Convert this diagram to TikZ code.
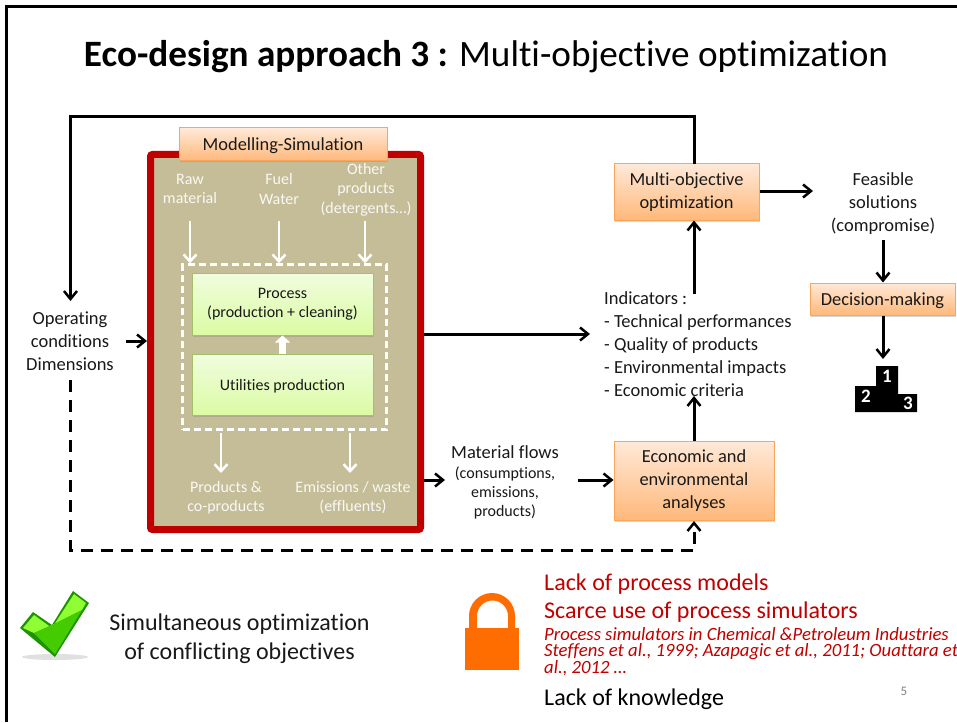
\documentclass[tikz,border=0pt]{standalone}
\usepackage{fontspec}
\setmainfont[Ligatures=NoCommon]{Carlito}
\usepackage{tikz}
\usetikzlibrary{arrows.meta,shadows,positioning}
\definecolor{khaki}{HTML}{C4BD97}
\definecolor{redframe}{HTML}{C00000}
\definecolor{lockorange}{HTML}{FF6C00}
\definecolor{orangetop}{HTML}{FFE9D8}
\definecolor{orangebot}{HTML}{FFB87A}
\definecolor{orangeline}{HTML}{F9A55B}
\definecolor{greentop}{HTML}{F0FDDE}
\definecolor{greenbot}{HTML}{DBFBA4}
\definecolor{greenline}{HTML}{A3C168}
\tikzset{
  txt/.style={inner sep=0pt,align=center,text=black!90,yshift=-1pt,font=\fontsize{18.5}{23}\selectfont},
  whtxt/.style={inner sep=0pt,align=center,text=white!90!khaki,yshift=-.5pt,font=\fontsize{16}{19.5}\selectfont},
  orangebox/.style={draw=orangeline,line width=1pt,top color=orangetop,bottom color=orangebot,
    drop shadow={shadow xshift=1pt,shadow yshift=-1.5pt,opacity=.3},align=center,text=black!90,inner sep=0pt,
    execute at begin node={\rule{0pt}{.85em}},font=\fontsize{18.4}{23}\selectfont},
  greenbox/.style={draw=greenline,line width=1pt,top color=greentop,bottom color=greenbot,
    drop shadow={shadow xshift=1pt,shadow yshift=-1.5pt,opacity=.3},align=center,text=black!90,inner sep=0pt,minimum width=181pt,
    execute at begin node={\rule{0pt}{.85em}},font=\fontsize{16}{19}\selectfont},
  arr/.style={-{Straight Barb[length=8pt,width=13pt,line width=2.5pt]},line width=3pt,black},
  wharr/.style={-{Straight Barb[length=7pt,width=13pt,line width=2.5pt]},line width=2.5pt,white},
  dasharr/.style={arr,dash pattern=on 12pt off 8pt},
  redtxt/.style={inner sep=0pt,anchor=west,text=redframe,font=\fontsize{24}{25}\selectfont},
  reftxt/.style={inner sep=0pt,anchor=north west,align=left,text=redframe,font=\fontsize{18.7}{16}\selectfont\itshape},
}
\begin{document}
\begin{tikzpicture}[x=1pt,y=-1pt]
\useasboundingbox (0,0) rectangle (957,722);
\fill[white] (0,0) rectangle (957,722);
% slide frame
\draw[line width=3pt] (6,722) -- (6,7) -- (957,7);
\node[inner sep=0pt,font=\fontsize{37.2}{40}\selectfont](title) at (486,57) {\textbf{Eco-design approach 3 :} Multi-objective optimization};

% simulation block
\node[draw=redframe,fill=khaki,line width=7pt,rounded corners=2pt,minimum width=270pt,minimum height=375pt,
  drop shadow={shadow xshift=1pt,shadow yshift=-1.5pt,opacity=.3}](simu) at (285.5,342) {};
\node[orangebox,minimum width=208pt,minimum height=33pt](model) at (283,144.5) {Modelling-Simulation};
\node[whtxt](raw) at (190,188.5) {Raw\\material};
\node[whtxt](fuel) at (279,188.5) {Fuel\\Water};
\node[whtxt](other) at (366,189) {Other\\products\\(detergents…)};
\node[draw=white,line width=2.5pt,dash pattern=on 7pt off 4pt,minimum width=204pt,minimum height=165pt](dashbox) at (284.5,347) {};
\node[greenbox,minimum height=62pt](process) at (282.5,304) {Process\\(production + cleaning)};
\node[greenbox,minimum height=61pt](util) at (282.5,384.5) {Utilities production};
\node[whtxt](prod) at (226,497) {Products \&\\co-products};
\node[whtxt](emis) at (353,497) {Emissions / waste\\(effluents)};
\coordinate (rawin) at (190,221);
\coordinate (fuelin) at (279,221);
\coordinate (otherin) at (365,221);
\coordinate (prodin) at (221,433);
\coordinate (prodout) at (221,473);
\coordinate (emisin) at (350,433);
\coordinate (emisout) at (350,473);
\draw[wharr] (rawin) -- (rawin |- dashbox.north);
\draw[wharr] (fuelin) -- (fuelin |- dashbox.north);
\draw[wharr] (otherin) -- (otherin |- dashbox.north);
\draw[wharr] (prodin) -- (prodout);
\draw[wharr] (emisin) -- (emisout);
\draw[-{Triangle[length=7pt,width=15pt]},line width=7pt,white] (util.north) -- (process.south);

% left side
\node[txt](oper) at (70,340) {Operating\\conditions\\Dimensions};
\coordinate (operin) at (126,341);
\coordinate (fbstart) at (694,164);
\coordinate (fbtop) at (70.5,116.5);
\coordinate (fbend) at (70.5,301);
\coordinate (dashstart) at (70.5,380);
\coordinate (dashcorner) at (70.5,550);

% right side
\node[orangebox,minimum width=145pt,minimum height=56pt](optim) at (686.5,192) {Multi-objective\\optimization};
\node[orangebox,minimum width=160pt,minimum height=79pt](econ) at (694,481) {Economic and\\environmental\\analyses};
\node[txt,align=left,anchor=west](indic) at (604,343) {Indicators :\\- Technical performances\\- Quality of products\\- Environmental impacts\\- Economic criteria};
\node[txt](feas) at (883,203) {Feasible\\solutions\\(compromise)};
\node[orangebox,minimum width=145pt,minimum height=32pt](decis) at (882.5,299) {Decision-making};
\node[txt](matflow) at (505,451) {Material flows};
\node[txt,font=\fontsize{16}{19}\selectfont](matlist) at (505,491.5) {(consumptions,\\emissions,\\products)};
\coordinate (indicout) at (694,294);
\coordinate (indicin) at (694,396);
\coordinate (econdash) at (694,550);
\coordinate (redout) at (590,334);
\coordinate (flowin) at (445,480);
\coordinate (flowout) at (578,480);
\coordinate (feasin) at (813,191);
\coordinate (feasout) at (883,240);
\coordinate (podtop) at (883,359);

% connectors
\draw[arr] (fbstart) |- (fbtop) -- (fbend);
\draw[arr] (operin) -- (simu.west |- operin);
\draw[dasharr] (dashstart) -- (dashcorner) -- (econdash) -- (econ.south -| econdash);
\draw[arr] (simu.east |- redout) -- (redout);
\draw[arr] (simu.east |- flowin) -- (flowin);
\draw[arr] (flowout) -- (econ.west |- flowout);
\draw[arr] (econ.north -| indicin) -- (indicin);
\draw[arr] (indicout) -- (optim.south -| indicout);
\draw[arr] (optim.east |- feasin) -- (feasin);
\draw[arr] (feasout) -- (decis.north -| feasout);
\draw[arr] (decis.south -| podtop) -- (podtop);

% podium
\fill[black] (855,412) -- (855,386) -- (876,386) -- (876,366) -- (898,366) -- (898,394) -- (917,394) -- (917,412) -- cycle;
\node[text=white,inner sep=0pt,font=\fontsize{19}{19}\selectfont\bfseries](first) at (887,376) {1};
\node[text=white,inner sep=0pt,font=\fontsize{19}{19}\selectfont\bfseries](second) at (866,396) {2};
\node[text=white,inner sep=0pt,font=\fontsize{19}{19}\selectfont\bfseries](third) at (908,403) {3};

% check mark
\fill[black!40,opacity=.3] (55,657) ellipse[x radius=33,y radius=3];
\fill[green!50!black!85!lime] (20,628) -- (33,612) -- (52,625) -- (73,591) -- (89,603) -- (55,657) -- cycle;
\fill[lime!60!green!80!white] (23,628) -- (34,615) -- (52,628) -- (74,594) -- (86,603) -- (82,610) -- (52,625) -- (34,633) -- cycle;
\fill[green!55!lime!80!black] (34,633) -- (52,625) -- (82,610) -- (55,654) -- cycle;
\node[txt,font=\fontsize{24}{29}\selectfont](simul) at (239.5,637.5) {Simultaneous optimization\\of conflicting objectives};

% lock
\fill[lockorange,even odd rule] (469,630) -- (469,616) arc[start angle=180,end angle=0,x radius=23,y radius=-23] -- (515,630) -- cycle
  (477,630) -- (477,616) arc[start angle=180,end angle=0,x radius=15.5,y radius=-15.5] -- (508,630) -- cycle;
\fill[lockorange] (465,628) rectangle (519,670);
\node[redtxt](lack) at (544,584.5) {Lack of process models};
\node[redtxt](scarce) at (544,612.5) {Scarce use of process simulators};
\node[reftxt](refs) at (544,627) {Process simulators in Chemical \&Petroleum Industries\\Steffens et al., 1999; Azapagic et al., 2011; Ouattara et\\al., 2012 …};
\node[redtxt,text=black](know) at (544,699.5) {Lack of knowledge};
\node[inner sep=0pt,text=black!50,font=\fontsize{13}{13}\selectfont](pageno) at (904,691) {5};
\end{tikzpicture}
\end{document}
